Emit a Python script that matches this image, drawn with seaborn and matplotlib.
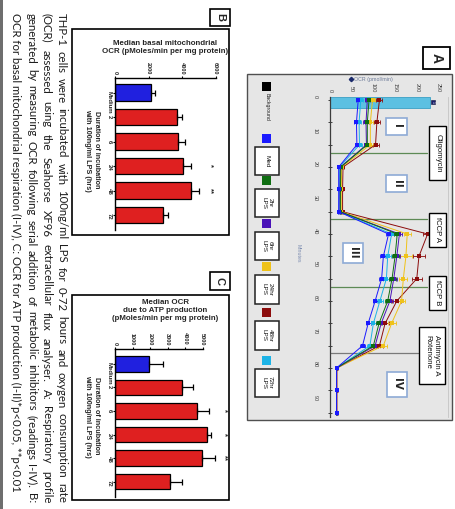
import matplotlib
matplotlib.use("Agg")
import matplotlib.pyplot as plt
from matplotlib.patches import Rectangle
import numpy as np
import pandas as pd
import seaborn as sns

sns.set_theme(style="white")
plt.rcParams["font.family"] = ["Liberation Sans", "DejaVu Sans"]

W, H = 455, 509

# ---------------- Panel A: Seahorse respiratory profile ----------------
minutes = [1.0, 7.7, 14.4, 21.1, 27.8, 34.5, 41.2, 47.9, 54.6,
           61.3, 68.0, 74.7, 81.4, 88.1, 94.8]
groups = ["Med", "2hr LPS", "6hr LPS", "24hr LPS", "48hr LPS", "72hr LPS"]
ocr_med = [65, 61, 62, 20, 20, 20, 135, 123, 119, 104, 88, 75, 15, 15, 15]
ocr_2hr = [90, 86, 86, 25, 24, 24, 155, 150, 143, 133, 113, 100, 15, 15, 15]
ocr_6hr = [86, 83, 84, 24, 23, 23, 160, 154, 147, 138, 118, 104, 15, 15, 15]
ocr_24hr = [98, 93, 93, 27, 26, 26, 178, 175, 169, 165, 142, 123, 15, 15, 15]
ocr_48hr = [114, 108, 105, 30, 29, 29, 225, 205, 200, 154, 127, 114, 16, 16, 16]
ocr_72hr = [71, 67, 68, 22, 22, 21, 142, 133, 130, 115, 100, 92, 15, 15, 15]
err_med = [5, 5, 5, 2, 2, 2, 6, 7, 7, 6, 6, 5, 2, 2, 2]
err_2hr = [6, 6, 6, 2, 2, 2, 7, 8, 8, 7, 7, 6, 2, 2, 2]
err_6hr = [6, 6, 6, 2, 2, 2, 7, 8, 8, 7, 7, 6, 2, 2, 2]
err_24hr = [6, 6, 6, 2, 2, 2, 8, 13, 9, 9, 9, 8, 2, 2, 2]
err_48hr = [7, 7, 7, 2, 2, 2, 10, 14, 12, 10, 10, 9, 2, 2, 2]
err_72hr = [5, 5, 5, 2, 2, 2, 6, 7, 7, 7, 6, 6, 2, 2, 2]
injection_names = ["Oligomycin", "fCCP A", "fCCP B", "Antimycin A\nRotenone"]
injection_minutes = [17.0, 36.8, 57.0, 77.0]
reading_labels = ["I", "II", "III", "IV"]
ocr_ticks = [0, 50, 100, 150, 200, 250]
minute_ticks = [0, 10, 20, 30, 40, 50, 60, 70, 80, 90]
legend_names = ["Background", "Med", "2hr\nLPS", "6hr\nLPS", "24hr\nLPS", "48hr\nLPS", "72hr\nLPS"]

colors = {
    "Background": "#000000",
    "Med": "#1a1aff",
    "2hr LPS": "#0f6e12",
    "6hr LPS": "#4a12b8",
    "24hr LPS": "#efc21a",
    "48hr LPS": "#8c0c0c",
    "72hr LPS": "#1cb3e6",
}

# ---------------- Panels B and C: bar charts ----------------
categories = ["Medium", "2", "6", "24", "48", "72"]
basal_ocr = [2130, 3680, 3780, 4080, 4540, 2890]
basal_err = [260, 300, 400, 440, 470, 290]
basal_sig = ["", "", "", "*", "**", ""]
atp_ocr = [1950, 3810, 4670, 5280, 4950, 3140]
atp_err = [810, 670, 720, 190, 760, 670]
atp_sig = ["", "", "*", "*", "**", ""]
basal_ticks = [0, 2000, 4000, 6000]
atp_ticks = [0, 1000, 2000, 3000, 4000, 5000]

caption_lines = [
    "THP-1 cells were incubated with 100ng/ml LPS for 0-72 hours and oxygen consumption rate",
    "(OCR) assessed using the Seahorse XF96 extracellular flux analyser. A: Respiratory profile",
    "generated by measuring OCR following serial addition of metabolic inhibitors (readings I-IV). B:",
    "OCR for basal mitochondrial respiration (I-IV), C: OCR for ATP production (I-II)*p<0.05, **p<0.01",
]

fig = plt.figure(figsize=(W / 100, H / 100), dpi=100)
fig.patch.set_facecolor("white")


def px_axes(left, top, right, bottom, label):
    return fig.add_axes([left / W, 1 - bottom / H, (right - left) / W, (bottom - top) / H],
                        label=label)


def overlay(label, z):
    ax = px_axes(0, 0, W, H, label)
    ax.set_xlim(0, W)
    ax.set_ylim(H, 0)
    ax.axis("off")
    ax.set_zorder(z)
    return ax


def box(ax, x0, y0, x1, y1, ec="black", fc="white", lw=1.0, z=1):
    ax.add_patch(Rectangle((x0, y0), x1 - x0, y1 - y0, ec=ec, fc=fc, lw=lw, zorder=z))


ax_bg = overlay("background", 0)
ax_fg = overlay("foreground", 5)

# page edge strip
box(ax_bg, 0, 0, 2.7, H, ec="none", fc="#6e6e6e")

# panel frames
box(ax_bg, 72, 28.5, 229, 235, lw=1.2)
box(ax_bg, 209.5, 8.5, 230, 25.5, lw=1.2)
ax_bg.text(219.8, 17, "B", rotation=-90, ha="center", va="center", fontsize=8, fontweight="bold")
box(ax_bg, 72, 295, 229, 500, lw=1.2)
box(ax_bg, 209.5, 272, 230, 290, lw=1.2)
ax_bg.text(219.8, 281, "C", rotation=-90, ha="center", va="center", fontsize=8, fontweight="bold")
box(ax_bg, 247, 74, 451.5, 420, ec="#505050", fc="#e6e6e6", lw=1.0)
box(ax_bg, 423, 47, 450, 68.5, lw=1.3)
ax_bg.text(436.5, 57.8, "A", rotation=-90, ha="center", va="center", fontsize=10, fontweight="bold")

# ---------------- caption (rotated, justified) ----------------
renderer = fig.canvas.get_renderer()
cap_family = ["Lato", "DejaVu Sans"]


def text_len(s, size):
    t = fig.text(0, 0, s, fontsize=size, family=cap_family)
    w = t.get_window_extent(renderer).width
    t.remove()
    return w


cap_size = 8.0 * 482.0 / text_len(caption_lines[3], 8.0)
cap_x = [61.5, 46.5, 31.5, 16.0]
y_start, y_end = 13.3, 503.0
for line, x in zip(caption_lines[:3], cap_x[:3]):
    words = line.split(" ")
    lens = [text_len(w, cap_size) for w in words]
    gap = (y_end - y_start - sum(lens)) / (len(words) - 1)
    y = y_start
    for w, L in zip(words, lens):
        ax_fg.text(x, y, w, rotation=-90, ha="center", va="top", fontsize=cap_size,
                   family=cap_family, color="#1c1c1c")
        y += L + gap
ax_fg.text(cap_x[3], y_start, caption_lines[3], rotation=-90, ha="center", va="top",
           fontsize=cap_size, family=cap_family, color="#1c1c1c")


# ---------------- bar panels ----------------
def bar_panel(left, top, right, bottom, values, errs, sig, ticks, xmax, spine_max, lo, hi,
              star_x, label):
    ax = px_axes(left, top, right, bottom, label)
    ax.set_zorder(2)
    ax.set_facecolor("none")
    df = pd.DataFrame({"cat": categories, "val": values})
    pal = ["#0000ff"] + ["#ff0000"] * (len(categories) - 1)
    sns.barplot(data=df, x="val", y="cat", hue="cat", palette=pal, legend=False,
                orient="h", width=0.66, edgecolor="black", linewidth=0.9, ax=ax)
    pos = np.arange(len(categories))
    ax.errorbar(values, pos, xerr=[np.zeros(len(errs)), errs], fmt="none",
                ecolor="black", elinewidth=0.9, capsize=2.3, capthick=0.9)
    for i, s in enumerate(sig):
        if s:
            ax.text(star_x, i, s, rotation=-90, ha="center", va="center",
                    fontsize=5.5, fontweight="bold", zorder=6)
    ax.set_xlim(0, xmax)
    ax.set_ylim(hi, lo)
    ax.set_xlabel("")
    ax.set_ylabel("")
    ax.xaxis.tick_top()
    ax.set_xticks(ticks)
    ax.set_xticklabels([str(t) for t in ticks])
    ax.tick_params(axis="x", top=True, bottom=False, labeltop=True, labelbottom=False,
                   length=1.8, width=0.8, pad=0.8, labelsize=4.0, labelrotation=-90,
                   color="black")
    ax.tick_params(axis="y", left=True, length=1.8, width=0.8, pad=0.8, labelsize=4.3,
                   labelrotation=-90, color="black")
    for lbl in ax.get_xticklabels() + ax.get_yticklabels():
        lbl.set_fontweight("bold")
    for side in ["right", "bottom"]:
        ax.spines[side].set_visible(False)
    for side in ["top", "left"]:
        ax.spines[side].set_color("black")
        ax.spines[side].set_linewidth(1.0)
    ax.spines["top"].set_bounds(0, spine_max)
    return ax


bar_panel(115, 77.8, 115 + 6300 * 0.01675, 229.7, basal_ocr, basal_err, basal_sig,
          basal_ticks, 6300, 6000, -0.6, 5.6, 5670, "basal")
bar_panel(115, 348.7, 115 + 6000 * 0.0175, 496.8, atp_ocr, atp_err, atp_sig,
          atp_ticks, 6000, 5000, -0.65, 5.65, 6250, "atp")

ax_fg.text(165, 47.5, "Median basal mitochondrial\nOCR (pMoles/min per mg protein)",
           ha="center", va="center", fontsize=5.7, fontweight="bold", linespacing=1.25)
ax_fg.text(165, 310.5, "Median OCR\ndue to ATP production\n(pMoles/min per mg protein)",
           ha="center", va="center", fontsize=5.7, fontweight="bold", linespacing=1.25)
for yc in (150, 416):
    ax_fg.text(92, yc, "Duration of incubation\nwith 100ng/ml LPS (hrs)", rotation=-90,
               ha="center", va="center", fontsize=5.2, fontweight="bold", linespacing=1.3,
               multialignment="center")

# ---------------- panel A: line chart ----------------
axA = px_axes(330, 96.7, 448, 96.7 + 96 * 3.333, "profile")
axA.set_zorder(2)
axA.set_facecolor("none")

series = {"Med": (ocr_med, err_med), "2hr LPS": (ocr_2hr, err_2hr),
          "6hr LPS": (ocr_6hr, err_6hr), "24hr LPS": (ocr_24hr, err_24hr),
          "48hr LPS": (ocr_48hr, err_48hr), "72hr LPS": (ocr_72hr, err_72hr)}
dfA = pd.concat([pd.DataFrame({"Minutes": minutes, "OCR": v, "Group": g})
                 for g, (v, e) in series.items()], ignore_index=True)

# selected-well highlight bar at the first reading
axA.add_patch(Rectangle((0, 0), 231, 3.3, fc="#5cc0e2", ec="#3a9fc4", lw=0.6, zorder=1))
axA.add_patch(Rectangle((233, 0.9), 9, 1.4, fc="#1b1f6b", ec="#0d0f3a", lw=0.4, zorder=1,
                        clip_on=False))
axA.text(237.5, 1.6, "1", rotation=-90, ha="center", va="center", fontsize=2.5,
         color="white", zorder=2, clip_on=False)

line_ends = [223, 223, 223, 203]
line_cols = ["#5d8a55", "#5d8a55", "#5d8a55", "#7a7a7a"]
for t, xe, c in zip(injection_minutes, line_ends, line_cols):
    axA.plot([0, xe], [t, t], color=c, lw=0.9, zorder=1)

draw_order = groups[::-1]
for g in draw_order:
    v, e = series[g]
    axA.errorbar(v, minutes, xerr=e, fmt="none", ecolor=colors[g], elinewidth=0.6,
                 capsize=1.4, capthick=0.6, zorder=3, clip_on=False)
sns.lineplot(data=dfA, x="OCR", y="Minutes", hue="Group", hue_order=draw_order,
             palette=colors, orient="y", estimator=None, sort=True, marker="s",
             markersize=2.6, markeredgewidth=0, linewidth=0.7, legend=False, ax=axA,
             zorder=4, clip_on=False)

axA.set_xlim(0, 272)
axA.set_ylim(96, 0)
axA.set_xlabel("")
axA.set_ylabel("")
axA.xaxis.tick_top()
axA.set_xticks(ocr_ticks)
axA.set_xticklabels([str(t) for t in ocr_ticks])
axA.tick_params(axis="x", top=True, bottom=False, labeltop=True, labelbottom=False,
                length=0, pad=3.2, labelsize=4.0, labelrotation=-90, labelcolor="#404040")
axA.set_yticks(minute_ticks)
axA.set_yticklabels([str(t) for t in minute_ticks])
axA.set_yticks(minutes, minor=True)
axA.tick_params(axis="y", which="major", left=True, length=0, pad=9, labelsize=4.0,
                labelrotation=-90, labelcolor="#404040")
axA.tick_params(axis="y", which="minor", left=True, length=2.2, width=0.7,
                direction="inout", color="#404040")
for side in ["top", "bottom"]:
    axA.spines[side].set_visible(False)
axA.spines["left"].set_color("#3c3c3c")
axA.spines["left"].set_linewidth(0.9)
axA.spines["right"].set_color("#c4c4c4")
axA.spines["right"].set_linewidth(0.6)

# axis titles of panel A
ax_fg.plot([350.8], [79], marker="D", markersize=2.2, color="#1b2a6b")
ax_fg.text(354, 79, "OCR (pmol/min)", ha="left", va="center", fontsize=3.8, color="#6a7896")
ax_fg.text(298, 253, "Minutes", rotation=-90, ha="center", va="center", fontsize=3.8,
           color="#7c8cb0")

# reading blocks
roman_boxes = [(386, 117.7, 407.3, 135), (386, 175, 407.3, 192.3),
               (342.7, 242.7, 363.3, 263.3), (386.7, 371.7, 407.3, 396.7)]
for lab, (x0, y0, x1, y1) in zip(reading_labels, roman_boxes):
    box(ax_fg, x0, y0, x1, y1, ec="#8eaad6", fc="white", lw=1.2)
    ax_fg.text((x0 + x1) / 2, (y0 + y1) / 2, lab, rotation=-90, ha="center", va="center",
               fontsize=7.5, fontweight="bold", family=["DejaVu Sans"])

# injection labels
inj_boxes = [(429.3, 125.7, 446, 180), (429.3, 212.7, 446, 246.7),
             (429.3, 276, 446, 310), (419.3, 327.3, 445, 384)]
for lab, (x0, y0, x1, y1) in zip(injection_names, inj_boxes):
    box(ax_fg, x0, y0, x1, y1, ec="black", fc="white", lw=1.0)
    ax_fg.text((x0 + x1) / 2, (y0 + y1) / 2, lab, rotation=-90, ha="center", va="center",
               fontsize=5.6, color="#111111", linespacing=1.15, multialignment="left")

# legend
legend_keys = ["Background"] + groups
legend_y = [86.7, 138.3, 180, 223.3, 266.7, 312.7, 360]
for key, name, y in zip(legend_keys, legend_names, legend_y):
    box(ax_fg, 262.2, y - 4.5, 271.2, y + 4.5, ec="none", fc=colors[key], lw=0)
    if key == "Background":
        ax_fg.text(266.7, 92.5, name, rotation=-90, ha="center", va="top", fontsize=3.7,
                   color="#222222")
    else:
        box(ax_fg, 255, y + 8.5, 279.3, y + 37, ec="#222222", fc="white", lw=1.1)
        ax_fg.text(267.2, y + 22.7, name, rotation=-90, ha="center", va="center",
                   fontsize=4.6, color="#111111", linespacing=1.2, multialignment="center")

fig.savefig("out.png", dpi=100, facecolor="white")
